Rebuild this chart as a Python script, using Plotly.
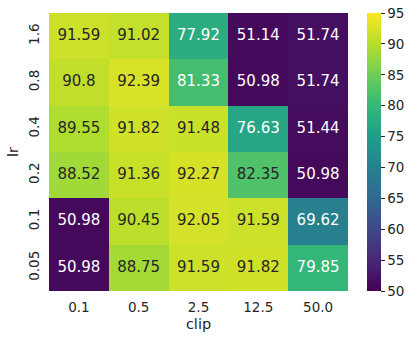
import plotly.graph_objects as go

# grid of results: rows are lr (bottom to top), columns are clip
clip_labels = ["0.1", "0.5", "2.5", "12.5", "50.0"]
lr_labels = ["0.05", "0.1", "0.2", "0.4", "0.8", "1.6"]

acc_lr_005 = [50.98, 88.75, 91.59, 91.82, 79.85]
acc_lr_01 = [50.98, 90.45, 92.05, 91.59, 69.62]
acc_lr_02 = [88.52, 91.36, 92.27, 82.35, 50.98]
acc_lr_04 = [89.55, 91.82, 91.48, 76.63, 51.44]
acc_lr_08 = [90.8, 92.39, 81.33, 50.98, 51.74]
acc_lr_16 = [91.59, 91.02, 77.92, 51.14, 51.74]

cbar_ticks = [50, 55, 60, 65, 70, 75, 80, 85, 90, 95]

z = [acc_lr_005, acc_lr_01, acc_lr_02, acc_lr_04, acc_lr_08, acc_lr_16]

fig = go.Figure()
fig.add_trace(go.Heatmap(
    x=clip_labels,
    y=lr_labels,
    z=z,
    colorscale="Viridis",
    zmin=50,
    zmax=95,
    hoverinfo="skip",
    colorbar=dict(
        thickness=14,
        len=1.0,
        lenmode="fraction",
        y=0,
        yanchor="bottom",
        x=1.0635,
        xanchor="left",
        xpad=0,
        ypad=0,
        outlinewidth=0,
        ticks="outside",
        ticklen=4,
        tickcolor="#262626",
        tickvals=cbar_ticks,
        tickfont=dict(family="DejaVu Sans", size=13.5, color="#262626"),
    ),
))

# cell annotations, light text on dark cells
xs, ys, texts, colors = [], [], [], []
for row_lab, row in zip(lr_labels, z):
    for col_lab, v in zip(clip_labels, row):
        xs.append(col_lab)
        ys.append(row_lab)
        texts.append(f"{v:g}")
        colors.append("white" if v < 82 else "#262626")

fig.add_trace(go.Scatter(
    x=xs, y=ys, text=texts, mode="text",
    textfont=dict(family="DejaVu Sans", size=15, color=colors),
    hoverinfo="skip", showlegend=False,
))

fig.update_layout(
    width=416,
    height=340,
    margin=dict(l=49, r=68, t=13, b=49, autoexpand=False),
    plot_bgcolor="white",
    paper_bgcolor="white",
    font=dict(family="DejaVu Sans", color="#262626"),
    showlegend=False,
)
fig.update_xaxes(
    type="category",
    categoryorder="array",
    categoryarray=clip_labels,
    showgrid=False,
    zeroline=False,
    automargin=False,
    ticks="",
    ticklabelstandoff=6,
    tickfont=dict(size=13.5),
    title=dict(text="clip", font=dict(size=14.5), standoff=5),
)
fig.update_yaxes(
    type="category",
    categoryorder="array",
    categoryarray=lr_labels,
    showgrid=False,
    zeroline=False,
    automargin=False,
    ticks="",
    tickangle=-90,
    ticklabelstandoff=6,
    tickfont=dict(size=13.5),
    title=dict(text="lr", font=dict(size=14.5), standoff=4),
)

# drop the browser's default page margin so the figure sits at 0,0
fig.write_html(
    "out.html",
    config={"displayModeBar": False, "staticPlot": True},
    post_script="document.body.style.margin='0';",
)
